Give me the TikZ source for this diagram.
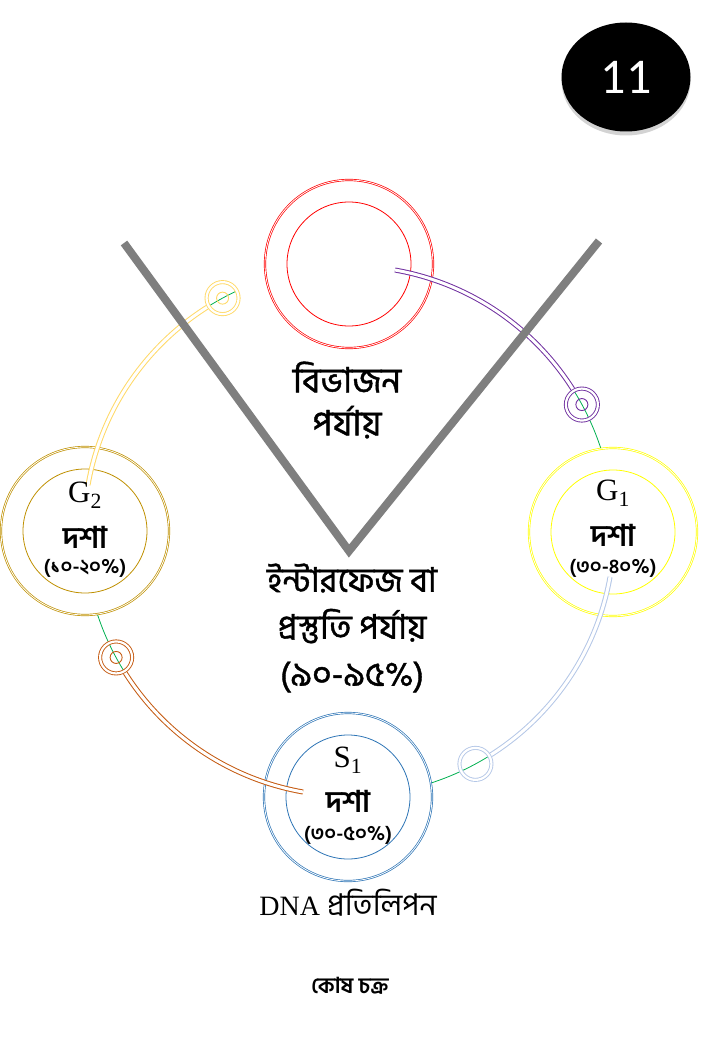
\documentclass[tikz,border=0pt]{standalone}
\usepackage{fontspec}
\newfontfamily\bnfont[Script=Bengali]{Hind Siliguri}
\newfontfamily\bnmid[Script=Bengali, FakeBold=1.2]{Hind Siliguri}
\newfontfamily\numfont{Carlito}
\newfontfamily\serfont{Liberation Serif}
\usetikzlibrary{positioning,calc,shapes.geometric,shadows}

\definecolor{divred}{HTML}{FF0000}
\definecolor{gtwogold}{HTML}{BF9000}
\definecolor{goneyellow}{HTML}{FFFF00}
\definecolor{sblue}{HTML}{2E75B6}
\definecolor{tubepurple}{HTML}{7030A0}
\definecolor{tubegold}{HTML}{FFD966}
\definecolor{tubebrown}{HTML}{C55A11}
\definecolor{tubeblue}{HTML}{B4C7E7}
\definecolor{cyclegreen}{HTML}{00B050}
\definecolor{vgray}{HTML}{7F7F7F}

\begin{document}
\begin{tikzpicture}[
    x=1pt, y=-1pt,
    phase/.style={circle, draw, fill=white, double, line width=0.7pt, double distance=0.8pt, minimum size=168pt, inner sep=0pt},
    core/.style={circle, draw, line width=0.8pt, minimum size=124pt, inner sep=0pt},
    tube/.style={double=white, line width=1pt, double distance=3pt},
    knob/.style={circle, double=white, line width=0.9pt, double distance=2.2pt, minimum size=32pt, inner sep=0pt},
    pit/.style={circle, line width=0.9pt, minimum size=12pt, inner sep=0pt},
    vline/.style={vgray, line width=8pt, line join=miter},
    bigtext/.style={font=\bnmid\fontsize{35}{43}\selectfont, align=center},
    symtext/.style={font=\serfont\fontsize{31}{34}\selectfont},
    stagetext/.style={font=\bnfont\bfseries\fontsize{30}{34}\selectfont},
    pcttext/.style={font=\bnfont\bfseries\fontsize{20}{22}\selectfont}
]
    \useasboundingbox (0,0) rectangle (720,1040);

    % the cycle
    \coordinate (cyc) at (349,531);
    \draw[cyclegreen, line width=0.8pt] ($(cyc)+(-105:265)$) arc[start angle=-105, end angle=245, radius=265];

    % phases
    \node[phase, draw=divred] (div) at (349,264) {};
    \node[core, draw=divred] at (div) {};
    \node[phase, draw=gtwogold] (gtwo) at (85,531) {};
    \node[core, draw=gtwogold] at (gtwo) {};
    \node[phase, draw=goneyellow] (gone) at (613,532) {};
    \node[core, draw=goneyellow] at (gone) {};
    \node[phase, draw=sblue] (s) at (348,797) {};
    \node[core, draw=sblue] at (s) {};

    % tubes along the cycle
    \foreach \ang/\col/\nm/\op in {90/tubepurple/div/1, 180/tubegold/gtwo/1, 270/tubebrown/s/1, 0/tubeblue/gone/0} {
        \coordinate (\nm-start) at ($(cyc)+(-\ang+10:265)$);
        \node[knob, draw=\col] (\nm-knob) at ($(cyc)+(-\ang+61.5:265)$) {};
        \node[pit, draw=\col, draw opacity=\op] at (\nm-knob) {};
        \draw[tube, draw=\col] (\nm-start) arc[start angle=-\ang+10, end angle=-\ang+57.6, radius=265];
    }

    % the V
    \coordinate (vleft) at (124,243);
    \coordinate (vapex) at (349,551);
    \coordinate (vright) at (599,241);
    \draw[vline] (vleft) -- (vapex) -- (vright);

    % labels
    \node[bigtext] (divlabel) at (347,400) {বিভাজন\\পর্যায়};
    \node[bigtext, font=\bnmid\fontsize{34}{47}\selectfont] (interlabel) at (352,628) {ইন্টারফেজ বা\\প্রস্তুতি পর্যায়\\(৯০-৯৫\%)};

    \node[symtext] (gtwosym) at ($(gtwo)+(0,-36)$) {G\textsubscript{2}};
    \node[stagetext] (gtwoword) at ($(gtwo)+(0,6)$) {দশা};
    \node[pcttext] (gtwopct) at ($(gtwo)+(0,37)$) {(১০-২০\%)};

    \node[symtext] (gonesym) at ($(gone)+(0,-39)$) {G\textsubscript{1}};
    \node[stagetext] (goneword) at ($(gone)+(0,3)$) {দশা};
    \node[pcttext] (gonepct) at ($(gone)+(0,36)$) {(৩০-৪০\%)};

    \node[symtext] (ssym) at ($(s)+(0,-37)$) {S\textsubscript{1}};
    \node[stagetext] (sword) at ($(s)+(0,4)$) {দশা};
    \node[pcttext] (spct) at ($(s)+(0,38)$) {(৩০-৫০\%)};

    \node[font=\serfont\fontsize{28}{32}\selectfont] (dna) at (348,903) {DNA {\bnfont\fontsize{30}{32}\selectfont প্রতিলিপন}};
    \node[font=\bnfont\bfseries\fontsize{22}{26}\selectfont] (title) at (350,986) {কোষ চক্র};

    % page number
    \node[ellipse, fill=black, minimum width=129pt, minimum height=109pt, text=white,
          font=\numfont\fontsize{50}{56}\selectfont,
          drop shadow={shadow xshift=0pt, shadow yshift=-4pt, opacity=0.35}] (num) at (626,77) {11};
\end{tikzpicture}
\end{document}
